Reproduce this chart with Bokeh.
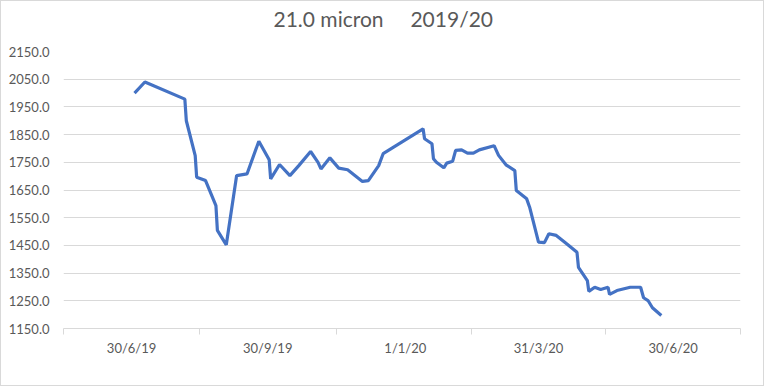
import pandas as pd
from bokeh.plotting import figure
from bokeh.models import FixedTicker, Range1d, ColumnDataSource, Title
from bokeh.embed import file_html
from bokeh.resources import INLINE

# ---- data ----
dates = [
    "2019-07-02", "2019-07-09", "2019-08-05", "2019-08-06", "2019-08-12", "2019-08-13",
    "2019-08-19", "2019-08-26", "2019-08-27", "2019-09-02", "2019-09-09", "2019-09-16",
    "2019-09-24", "2019-10-01", "2019-10-02", "2019-10-08", "2019-10-15", "2019-10-21",
    "2019-10-29", "2019-11-03", "2019-11-05", "2019-11-11", "2019-11-17", "2019-11-23",
    "2019-12-03", "2019-12-07", "2019-12-14", "2019-12-17", "2020-01-13", "2020-01-14",
    "2020-01-19", "2020-01-20", "2020-01-22", "2020-01-27", "2020-01-29", "2020-02-02",
    "2020-02-04", "2020-02-08", "2020-02-12", "2020-02-16", "2020-02-20", "2020-03-01",
    "2020-03-04", "2020-03-09", "2020-03-15", "2020-03-16", "2020-03-23", "2020-03-25",
    "2020-03-31", "2020-04-04", "2020-04-07", "2020-04-12", "2020-04-19", "2020-04-26",
    "2020-04-27", "2020-05-03", "2020-05-04", "2020-05-08", "2020-05-12", "2020-05-17",
    "2020-05-18", "2020-05-23", "2020-06-01", "2020-06-08", "2020-06-10", "2020-06-13",
    "2020-06-16", "2020-06-22",
]
prices = [
    2000, 2040, 1978, 1900, 1774, 1696,
    1684, 1594, 1504, 1452, 1702, 1708,
    1826, 1759, 1690, 1742, 1702, 1738,
    1789, 1750, 1726, 1766, 1729, 1723,
    1681, 1684, 1738, 1781, 1871, 1835,
    1817, 1763, 1750, 1730, 1747, 1754,
    1793, 1795, 1783, 1783, 1795, 1810,
    1775, 1741, 1720, 1648, 1618, 1588,
    1462, 1460, 1492, 1486, 1456, 1425,
    1371, 1323, 1284, 1299, 1291, 1299,
    1273, 1287, 1299, 1299, 1261, 1251,
    1225, 1197,
]
tick_dates = ["2019-06-30", "2019-09-30", "2020-01-01", "2020-03-31", "2020-06-30"]
tick_labels = ["30/6/19", "30/9/19", "1/1/20", "31/3/20", "30/6/20"]
y_ticks = [1150, 1250, 1350, 1450, 1550, 1650, 1750, 1850, 1950, 2050, 2150]
title_text = "21.0 micron\u00a0\u00a0\u00a0\u00a0 2019/20"

# ---- helpers ----
base = pd.Timestamp("2019-06-30")
def day(s):
    return (pd.Timestamp(s) - base).days

xs = [day(d) for d in dates]
tick_x = [day(d) for d in tick_dates]
# category-style boundaries midway between labels
bounds = [tick_x[0] - (tick_x[1] - tick_x[0]) / 2]
for a, b in zip(tick_x[:-1], tick_x[1:]):
    bounds.append((a + b) / 2)
bounds.append(tick_x[-1] + (tick_x[-1] - tick_x[-2]) / 2)

GREY_TXT = "#595959"
GRID = "#d9d9d9"
FONT = "Lato"

p = figure(width=764, height=386, output_backend="svg", toolbar_location=None,
           x_range=Range1d(bounds[0], bounds[-1]), y_range=Range1d(1150, 2150),
           min_border_left=62, min_border_right=25, min_border_top=50, min_border_bottom=59,
           title=None)
p.styles = {"border": "1px solid #d9d9d9"}
p.outline_line_color = None
p.background_fill_color = "white"
p.border_fill_color = "white"

src = ColumnDataSource(dict(x=xs, y=prices))
p.line("x", "y", source=src, line_color="#4472C4", line_width=3.2)

# spacer between title and plot area, then the title itself
spacer = Title(text="\u00a0", text_font=FONT, text_font_size="14px", standoff=0)
p.add_layout(spacer, "above")
main_title = Title(text=title_text, align="left", offset=210, text_font=FONT,
                   text_font_size="21px", text_font_style="normal",
                   text_color=GREY_TXT, standoff=4)
p.add_layout(main_title, "above")

# x axis
p.xaxis.ticker = FixedTicker(ticks=tick_x, minor_ticks=bounds)
p.xaxis.major_label_overrides = {t: l for t, l in zip(tick_x, tick_labels)}
p.xaxis.major_tick_out = 0
p.xaxis.major_tick_in = 0
p.xaxis.minor_tick_out = 6
p.xaxis.minor_tick_in = 0
p.xaxis.minor_tick_line_color = GRID
p.xaxis.axis_line_color = GRID
p.xaxis.major_label_standoff = 5
p.xaxis.major_label_text_font = FONT
p.xaxis.major_label_text_font_size = "13px"
p.xaxis.major_label_text_color = GREY_TXT
p.xgrid.grid_line_color = None

# y axis
p.yaxis.ticker = FixedTicker(ticks=y_ticks)
p.yaxis.major_label_overrides = {t: f"{t:.1f}" for t in y_ticks}
p.yaxis.axis_line_color = None
p.yaxis.major_tick_line_color = None
p.yaxis.minor_tick_line_color = None
p.yaxis.major_label_standoff = 8
p.yaxis.major_label_text_font = FONT
p.yaxis.major_label_text_font_size = "13px"
p.yaxis.major_label_text_color = GREY_TXT
p.ygrid.grid_line_color = GRID
p.ygrid.grid_line_width = 1

open("out.html", "w").write(file_html(p, INLINE))
